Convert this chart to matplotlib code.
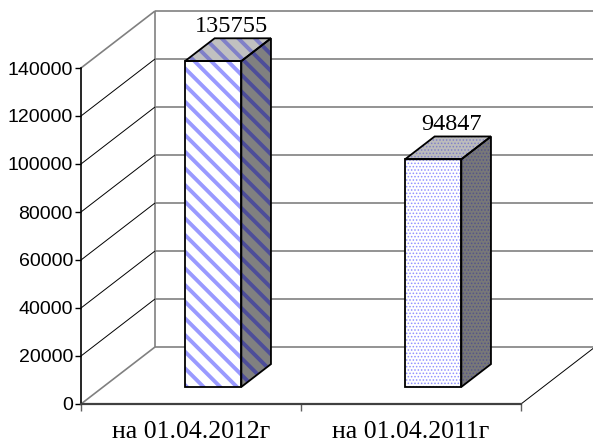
import matplotlib
matplotlib.use('Agg')
import matplotlib.pyplot as plt
from matplotlib.patches import Polygon

categories = ['на 01.04.2012г', 'на 01.04.2011г']
values = [135755, 94847]
yticks = [0, 20000, 40000, 60000, 80000, 100000, 120000, 140000]

W, H = 593, 445
fig = plt.figure(figsize=(W / 100, H / 100), dpi=100)
ax = fig.add_axes([0, 0, 1, 1])
ax.set_facecolor('white')

x0px, y0px = 81, 404          # front origin (pixels from left / from top)
pxx = 220.0                   # pixels per category unit
ymax = yticks[-1]
pxy = 336.0 / ymax            # pixels per value unit
ax.set_xlim(-x0px / pxx, (W - x0px) / pxx)
ax.set_ylim(-(H - y0px) / pxy, y0px / pxy)
DX = 74 / pxx
DY = 57 / pxy
ncat = len(categories)


def P(x, v, d):
    return (x + d * DX, v + d * DY)


def seg(p, q, **kw):
    ax.plot([p[0], q[0]], [p[1], q[1]], solid_capstyle='butt', **kw)


gray = '#808080'
# back wall
for v in yticks:
    seg(P(0, v, 1), P(ncat + 0.1, v, 1), color=gray, lw=1.2, zorder=1)
seg(P(0, 0, 1), P(0, ymax, 1), color=gray, lw=1.2, zorder=1)
# left wall
for v in yticks:
    if v in (0, ymax):
        seg(P(0, v, 0), P(0, v, 1), color=gray, lw=1.2, zorder=1)
    else:
        seg(P(0, v, 0), P(0, v, 1), color='black', lw=0.7, zorder=1)
# floor right edge
seg(P(ncat, 0, 0), P(ncat, 0, 1), color='black', lw=0.7, zorder=1)

styles = [
    dict(hatch='\\\\', lw=2.8,
         front=('white', '#9a9aff'), side=('#808080', '#4d4d99'), top=('#c0c0c0', '#8080c8')),
    dict(hatch='.....', lw=0.7,
         front=('white', '#9090ff'), side=('#787878', '#55558a'), top=('#bcbcbc', '#8080c8')),
]

hw = 0.128
d0, d1 = 0.3, 0.7
for i, v in enumerate(values):
    xc = i + 0.5
    st = styles[i]
    plt.rcParams['hatch.linewidth'] = st['lw']
    faces = {
        'side': [P(xc + hw, 0, d0), P(xc + hw, 0, d1), P(xc + hw, v, d1), P(xc + hw, v, d0)],
        'top': [P(xc - hw, v, d0), P(xc + hw, v, d0), P(xc + hw, v, d1), P(xc - hw, v, d1)],
        'front': [P(xc - hw, 0, d0), P(xc + hw, 0, d0), P(xc + hw, v, d0), P(xc - hw, v, d0)],
    }
    for name in ('side', 'top', 'front'):
        bg, hc = st[name]
        ax.add_patch(Polygon(faces[name], closed=True, facecolor=bg, edgecolor=hc,
                             hatch=st['hatch'], lw=0, zorder=3))
        ax.add_patch(Polygon(faces[name], closed=True, fill=False, edgecolor='black',
                             lw=1.3, joinstyle='miter', zorder=4))
    lx = P(xc, v, 0.5)[0]
    ly = P(xc, v, d1)[1]
    ax.annotate(f'{v}', xy=(lx, ly), xytext=(2.5, 4.5), textcoords='offset points',
                ha='center', va='baseline', fontsize=17.5, family='Liberation Serif', zorder=5)

# axes / spines
for s in ('top', 'right'):
    ax.spines[s].set_visible(False)
ax.spines['left'].set_position(('data', 0))
ax.spines['left'].set_bounds(0, ymax)
ax.spines['left'].set_linewidth(1.2)
ax.spines['bottom'].set_position(('data', 0))
ax.spines['bottom'].set_bounds(0, ncat)
ax.spines['bottom'].set_linewidth(1.6)
ax.spines['bottom'].set_color('#404040')

ax.set_yticks(yticks)
ax.set_yticklabels([str(t) for t in yticks], fontsize=14, family='Liberation Sans')
ax.tick_params(axis='y', direction='out', length=4.3, width=1.0, pad=1.5)

ax.set_xticks(list(range(ncat + 1)))
ax.set_xticklabels([''] * (ncat + 1))
ax.tick_params(axis='x', which='major', direction='out', length=5, width=1.0, color='#606060')
ax.set_xticks([i + 0.5 for i in range(ncat)], minor=True)
ax.set_xticklabels(categories, minor=True, fontsize=18.5, family='Liberation Serif')
ax.tick_params(axis='x', which='minor', length=0, pad=12)

fig.savefig('out.png', dpi=100)
